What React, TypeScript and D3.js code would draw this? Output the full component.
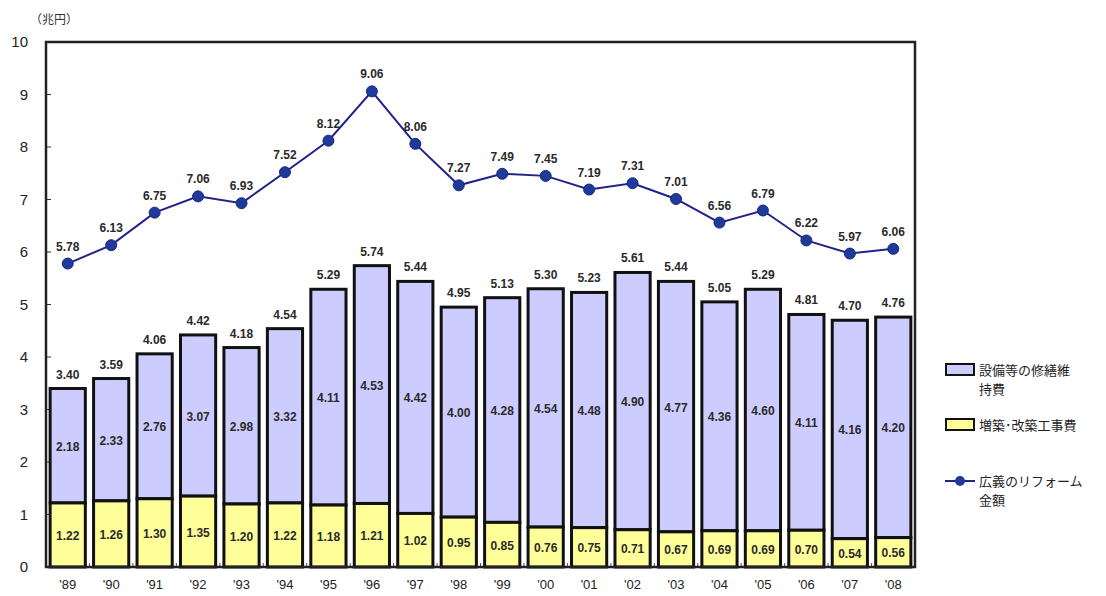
import React from "react";
import * as d3 from "d3";

const years = ["'89","'90","'91","'92","'93","'94","'95","'96","'97","'98","'99","'00","'01","'02","'03","'04","'05","'06","'07","'08"];
const extension = [1.22,1.26,1.30,1.35,1.20,1.22,1.18,1.21,1.02,0.95,0.85,0.76,0.75,0.71,0.67,0.69,0.69,0.70,0.54,0.56];
const maintenance = [2.18,2.33,2.76,3.07,2.98,3.32,4.11,4.53,4.42,4.00,4.28,4.54,4.48,4.90,4.77,4.36,4.60,4.11,4.16,4.20];
const barTotals = [3.40,3.59,4.06,4.42,4.18,4.54,5.29,5.74,5.44,4.95,5.13,5.30,5.23,5.61,5.44,5.05,5.29,4.81,4.70,4.76];
const broadTotal = [5.78,6.13,6.75,7.06,6.93,7.52,8.12,9.06,8.06,7.27,7.49,7.45,7.19,7.31,7.01,6.56,6.79,6.22,5.97,6.06];
const yTicks = [0,1,2,3,4,5,6,7,8,9,10];

const W = 1106, H = 596;
const left = 46, right = 915, top = 42, bottom = 567;
const font = "Liberation Sans, Arial, sans-serif";
const jp = "'Noto Sans CJK JP', sans-serif";

export default function App() {
  const x = d3.scaleBand<string>().domain(years).range([left, right]).paddingInner(0.19).paddingOuter(0.095);
  const y = d3.scaleLinear().domain([0, 10]).range([bottom, top]);
  const line = d3.line<number>().x((_, i) => x(years[i])! + x.bandwidth() / 2).y(d => y(d));
  const bw = x.bandwidth();

  return (
    <svg width={W} height={H} style={{ position: "absolute", left: 0, top: 0, background: "#fff" }}>
      <text x={30} y={24} fontFamily={jp} fontSize={12} fill="#333">（兆円）</text>
      {/* y ticks */}
      {yTicks.map(t => (
        <g key={t}>
          <text x={28} y={y(t) + 5} textAnchor="end" fontFamily={font} fontSize={15} fill="#222">{t}</text>
          {t > 0 && t < 10 && <line x1={left} x2={left + 5} y1={y(t)} y2={y(t)} stroke="#333" strokeWidth={1} />}
        </g>
      ))}
      {/* bars */}
      {years.map((yr, i) => {
        const x0 = x(yr)!;
        const ext = extension[i];
        const tot = barTotals[i];
        return (
          <g key={yr}>
            <rect x={x0} y={y(tot)} width={bw} height={y(ext) - y(tot)} fill="#ccccff" stroke="#111" strokeWidth={3} />
            <rect x={x0} y={y(ext)} width={bw} height={y(0) - y(ext)} fill="#ffff99" stroke="#111" strokeWidth={3} />
            <text x={x0 + bw / 2} y={y(ext) / 2 + y(0) / 2 + 5} textAnchor="middle" fontFamily={font} fontSize={12} fontWeight="bold" fill="#2a2a2a">{ext.toFixed(2)}</text>
            <text x={x0 + bw / 2} y={(y(ext) + y(tot)) / 2 + 5} textAnchor="middle" fontFamily={font} fontSize={12} fontWeight="bold" fill="#2a2a2a">{maintenance[i].toFixed(2)}</text>
            <text x={x0 + bw / 2} y={y(tot) - 10} textAnchor="middle" fontFamily={font} fontSize={12} fontWeight="bold" fill="#2a2a2a">{tot.toFixed(2)}</text>
            <text x={x0 + bw / 2} y={589} textAnchor="middle" fontFamily={font} fontSize={13} fill="#222">{yr}</text>
            {i > 0 && <line x1={x0 - (x.step() - bw) / 2} x2={x0 - (x.step() - bw) / 2} y1={bottom} y2={bottom - 4} stroke="#555" strokeWidth={1} />}
          </g>
        );
      })}
      {/* frame */}
      <rect x={left} y={top} width={right - left} height={bottom - top} fill="none" stroke="#222" strokeWidth={2.5} />
      {/* broad reform line */}
      <path d={line(broadTotal)!} fill="none" stroke="#22228a" strokeWidth={2} />
      {broadTotal.map((v, i) => {
        const cx = x(years[i])! + bw / 2;
        return (
          <g key={i}>
            <circle cx={cx} cy={y(v)} r={5.5} fill="#1f3a9a" stroke="#162a7a" strokeWidth={1} />
            <text x={cx} y={y(v) - 13} textAnchor="middle" fontFamily={font} fontSize={12} fontWeight="bold" fill="#2a2a2a">{v.toFixed(2)}</text>
          </g>
        );
      })}
      {/* legend */}
      <g fontFamily={jp} fontSize={13} fill="#222">
        <rect x={946} y={364} width={28} height={11} fill="#ccccff" stroke="#111" strokeWidth={2} />
        <text x={979} y={375}>設備等の修繕維</text>
        <text x={979} y={394}>持費</text>
        <rect x={946} y={419} width={28} height={11} fill="#ffff99" stroke="#111" strokeWidth={2} />
        <text x={979} y={430}>増築･改築工事費</text>
        <line x1={945} x2={975} y1={481} y2={481} stroke="#22228a" strokeWidth={2} />
        <circle cx={960} cy={481} r={5} fill="#1f3a9a" />
        <text x={979} y={486}>広義のリフォーム</text>
        <text x={979} y={505}>金額</text>
      </g>
    </svg>
  );
}
